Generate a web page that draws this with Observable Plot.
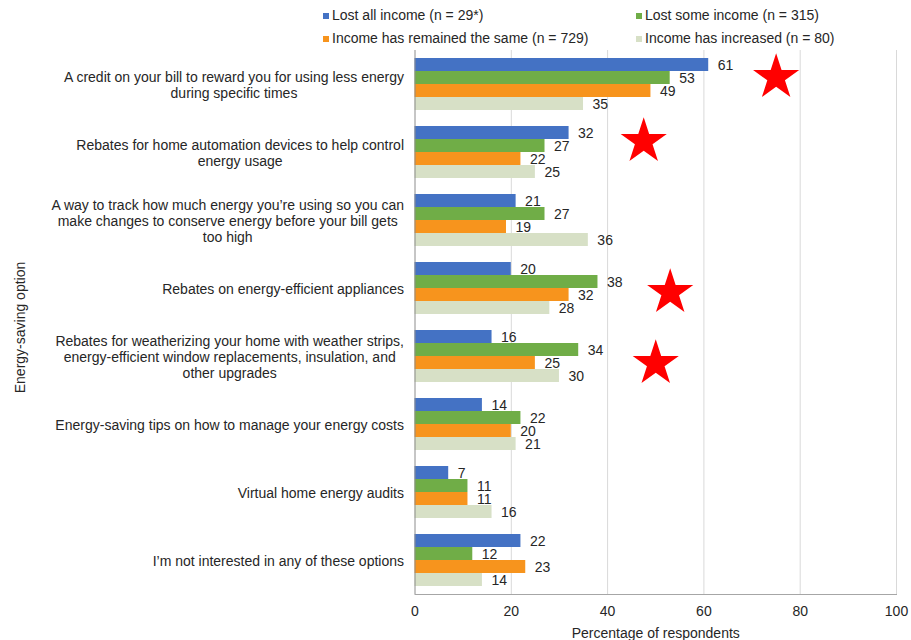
<!DOCTYPE html>
<html>
<head>
<meta charset="utf-8">
<script src="https://cdn.jsdelivr.net/npm/d3@7"></script>
<script src="https://cdn.jsdelivr.net/npm/@observablehq/plot@0.6"></script>
<style>
  body { margin: 0; background: #fff; font-family: "Liberation Sans", Arial, sans-serif; }
  #legend { position: relative; height: 46px; width: 911px; font-size: 14px; color: #262626; }
  .item { position: absolute; white-space: nowrap; line-height: 16px; }
  .sw { display: inline-block; width: 6px; height: 6px; margin-right: 3px; vertical-align: 1px; }
</style>
</head>
<body>
<div id="legend"></div>
<div id="chart"></div>
<script>
const options = [
  "A credit on your bill to reward you for using less energy\nduring specific times",
  "Rebates for home automation devices to help control\nenergy usage",
  "A way to track how much energy you\u2019re using so you can\nmake changes to conserve energy before your bill gets\ntoo high",
  "Rebates on energy-efficient appliances",
  "Rebates for weatherizing your home with weather strips,\nenergy-efficient window replacements, insulation, and\nother upgrades",
  "Energy-saving tips on how to manage your energy costs",
  "Virtual home energy audits",
  "I\u2019m not interested in any of these options"
];
const seriesNames = [
  "Lost all income (n = 29*)",
  "Lost some income (n = 315)",
  "Income has remained the same (n = 729)",
  "Income has increased (n = 80)"
];
const lostAll   = [61, 32, 21, 20, 16, 14, 7, 22];
const lostSome  = [53, 27, 27, 38, 34, 22, 11, 12];
const remained  = [49, 22, 19, 32, 25, 20, 11, 23];
const increased = [35, 25, 36, 28, 30, 21, 16, 14];
const xTicks = [0, 20, 40, 60, 80, 100];
// starred options and horizontal value where each star sits
const starOptions = [options[0], options[1], options[3], options[4]];
const starValues = [75, 47.5, 53, 50];

const colors = ["#4472C4", "#70AD47", "#F7941D", "#D7E0C6"];
const seriesValues = [lostAll, lostSome, remained, increased];

const rows = [];
options.forEach((o, i) => seriesNames.forEach((s, j) => rows.push({option: o, series: s, value: seriesValues[j][i]})));

// legend
const legendPos = [[323, 7], [636, 7], [323, 30], [636, 30]];
const legend = document.getElementById("legend");
seriesNames.forEach((s, i) => {
  const d = document.createElement("div");
  d.className = "item";
  d.style.left = legendPos[i][0] + "px";
  d.style.top = legendPos[i][1] + "px";
  d.innerHTML = `<span class="sw" style="background:${colors[i]}"></span>${s}`;
  legend.appendChild(d);
});

const starDy = [-7, -11, 4, 7];
const starMarks = starOptions.map((o, i) =>
  Plot.dot([{option: o, value: starValues[i]}], {x: "value", fy: "option", symbol: "star", r: 14.5, fill: "#FF0000", stroke: "none", dy: starDy[i]})
);

const chart = Plot.plot({
  width: 911,
  height: 594,
  marginTop: 2,
  marginLeft: 414.5,
  marginRight: 15,
  marginBottom: 44,
  style: {fontFamily: "'Liberation Sans', Arial, sans-serif", fontSize: "14px", color: "#262626", background: "#fff"},
  x: {domain: [0, 100]},
  fy: {domain: options, padding: 0},
  y: {domain: seriesNames, paddingInner: 0, paddingOuter: 0.49, axis: null},
  color: {domain: seriesNames, range: colors},
  marks: [
    Plot.gridX({ticks: xTicks.slice(1), stroke: "#d9d9d9", strokeOpacity: 1}),
    Plot.barX(rows, {x: "value", y: "series", fy: "option", fill: "series"}),
    Plot.text(rows, {x: "value", y: "series", fy: "option", text: d => String(d.value), textAnchor: "start", dx: 9, dy: 1, fill: "#262626", fontSize: 14}),
    Plot.ruleX([0], {stroke: "#8c8c8c"}),
    Plot.frame({anchor: "bottom", stroke: "#a6a6a6", facet: "super"}),
    ...starMarks,
    Plot.axisX({ticks: xTicks, tickSize: 0, tickPadding: 12, fontSize: 14, label: "Percentage of respondents", labelAnchor: "center", labelOffset: 43, labelArrow: "none"}),
    Plot.axisFy({anchor: "left", tickSize: 0, tickPadding: 11, label: null, fontSize: 14, lineHeight: 1.15}),
    Plot.text(["Energy-saving option"], {frameAnchor: "left", textAnchor: "middle", rotate: -90, dx: -394, dy: 5, facet: "super", fill: "#262626", fontSize: 14})
  ]
});
document.getElementById("chart").appendChild(chart);

// center the lines of multi-line category labels (right edge of the longest line stays aligned)
chart.querySelectorAll("text").forEach(t => {
  const spans = t.querySelectorAll("tspan");
  if (spans.length > 1 && t.closest('[aria-label="fy-axis tick label"]')) {
    let w = 0;
    spans.forEach(s => { w = Math.max(w, s.getComputedTextLength()); });
    t.setAttribute("text-anchor", "middle");
    spans.forEach(s => s.setAttribute("x", -w / 2));
  }
});
</script>
</body>
</html>
